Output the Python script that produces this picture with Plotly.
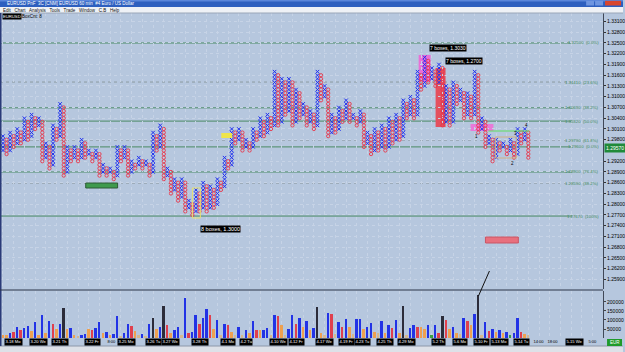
import plotly.graph_objects as go

W, H = 625, 352
BOX = 0.001

# ---------------- data ----------------
first_low = 1.295
x_highs = [1.299, 1.300, 1.301, 1.304, 1.305, 1.304, 1.297, 1.302, 1.308, 1.296, 1.296, 1.298, 1.295, 1.295, 1.291, 1.290, 1.296, 1.296, 1.292, 1.293, 1.292, 1.300, 1.302,
           1.290, 1.287, 1.287, 1.281, 1.284, 1.286, 1.285, 1.287, 1.293, 1.301, 1.301, 1.298, 1.301, 1.304, 1.305,
           1.317, 1.315, 1.315, 1.312, 1.308, 1.306, 1.317, 1.313, 1.305, 1.307, 1.309, 1.305, 1.306, 1.300, 1.301,
           1.302, 1.304, 1.305,
           1.309, 1.310, 1.317, 1.321, 1.318, 1.319, 1.313, 1.314, 1.312, 1.311, 1.317, 1.304, 1.299, 1.298, 1.297, 1.298, 1.301, 1.301]
o_lows = [1.294, 1.296, 1.297, 1.298, 1.301, 1.292, 1.290, 1.298, 1.288, 1.292, 1.292, 1.293, 1.292, 1.288, 1.288, 1.287, 1.292, 1.288, 1.290, 1.290, 1.288, 1.295, 1.287,
          1.283, 1.281, 1.278, 1.277, 1.278, 1.278, 1.279, 1.284, 1.290, 1.297, 1.295, 1.295, 1.298, 1.299, 1.301,
          1.302, 1.305, 1.302, 1.304, 1.302, 1.301, 1.309, 1.299, 1.300, 1.303, 1.303, 1.302, 1.296, 1.294, 1.295,
          1.295, 1.297, 1.298,
          1.304, 1.304, 1.312, 1.314, 1.313, 1.302, 1.302, 1.308, 1.304, 1.304, 1.300, 1.296, 1.292, 1.295, 1.294, 1.293, 1.297, 1.293]

volume_k = [17,17,30,35,60,45,55,65,40,90, 17,130,30,95,75,50,75,165,50,55, 17,12,17,25,50,45,55,90,30,35,
            17,22,120,12,30,80,65,40,17,25, 12,75,110,50,60,180,70,30,45,60, 17,220,30,35,125,75,110,160,125,50,
            100,17,80,70,35,17,60,17,45,30, 95,45,45,45,55,17,130,120,70,17, 50,125,75,
            110,60,95,45,55,170,30,17,140,135, 20,90,60,105,60,20,105,105,50,60, 85,35,30,95,30,70,55,100,30,180,
            17,55,70,60,60,50,70,17,70,30, 120,100,50,60,30,20,110,95,70,135, 240,17,90,40,50,35,45,30,35,17,
            30,110,35,25,15]
volume_kind = ("oobrbrbbob" "obobrobkob" "otbborbbob" "obbtbbrotb" "tbkobkrobb" "tbrbbrbbro"
               "btbrotbtbo" "brobbtbrot" "bbr"
               "bobobkotbr" "tbrbotbbob" "botbobrbok" "tbbroobgbr" "krobotbrob" "ktbrbobobg"
               "bbrot")

price_ticks = [1.259, 1.262, 1.265, 1.268, 1.271, 1.274, 1.277, 1.280, 1.283, 1.286, 1.289, 1.292,
               1.298, 1.301, 1.304, 1.307, 1.310, 1.313, 1.316, 1.319, 1.322, 1.325, 1.328, 1.331]
vol_ticks = [50000, 100000, 150000, 200000]

fib_prices = [1.3250, 1.3141, 1.3069, 1.3032, 1.2979, 1.2960, 1.2890, 1.2859, 1.2767]
fib_pct = ["0.0%", "23.6%", "38.2%", "50.0%", "61.8%", "0.0%", "76.4%", "38.2%", "100%"]
fib_dotted = [False, True, False, False, True, False, False, True, False]

date_cols = [3, 10, 16, 25, 30.5, 34.5, 42, 47, 55, 63, 68, 77, 82, 90, 96, 100.7, 107, 113, 122, 128, 134, 139, 145, 150, 154, 160, 165]
date_text = ["3-18 Mo", "3-20 We", "3-21 Th", "3-22 Fr", "8:00", "3-25 Mo", "3-26 Tu", "3-27 We", "3-28 Th", "4-1 Mo",
             "4-2 Tu", "4-10 We", "4-12 Fr", "4-17 We", "4-19 Fr", "4-23 Tu", "4-25 Th", "4-29 Mo", "5-2 Th", "5-6 Mo",
             "5-10 Fr", "5-13 Mo", "5-14 Tu", "14:00", "18:00", "5-15 We", "5:00"]
last_price = 1.2957

# ---------------- build P&F boxes ----------------
xx, xy, ox, oy = [], [], [], []
col = 0
low_n = round(first_low / BOX)
for hi, lo in zip(x_highs, o_lows):
    hi_n = max(round(hi / BOX), low_n)
    for n in range(low_n, hi_n + 1):
        xx.append(col); xy.append(n * BOX)
    col += 1
    lo_n = min(round(lo / BOX), hi_n - 1)
    for n in range(hi_n - 1, lo_n - 1, -1):
        ox.append(col); oy.append(n * BOX)
    col += 1
    low_n = lo_n + 1
ncols = col

kind_color = {"b": "#2233e6", "r": "#e0404e", "o": "#eea050", "t": "#d6b88e", "k": "#2c2c3a", "g": "#3aa040"}

def px(x):
    return x / W

def py(y):
    return 1 - y / H

BG = "#b6c7de"
GRID = "#c6d3e6"

fig = go.Figure()
fig.add_trace(go.Scatter(x=xx, y=xy, mode="markers", xaxis="x", yaxis="y",
                         marker=dict(symbol="x-thin", size=3.5, line=dict(color="#1f2ff0", width=1.0)),
                         hoverinfo="skip", showlegend=False))
fig.add_trace(go.Scatter(x=ox, y=oy, mode="markers", xaxis="x", yaxis="y",
                         marker=dict(symbol="circle-open", size=3.3, color="#e8364a", line=dict(width=0.9)),
                         hoverinfo="skip", showlegend=False))
fig.add_trace(go.Bar(x=list(range(len(volume_k))), y=[v * 1000 for v in volume_k], xaxis="x2", yaxis="y2",
                     marker=dict(color=[kind_color[k] for k in volume_kind], line=dict(width=0)),
                     width=0.55, hoverinfo="skip", showlegend=False))

xr = [-3 / 3.585, -3 / 3.585 + 605 / 3.585]
layout = dict(
    width=W, height=H, margin=dict(l=0, r=0, t=0, b=0), autosize=False,
    paper_bgcolor=BG, plot_bgcolor=BG, bargap=0,
    font=dict(family="Liberation Sans, Arial", size=5, color="#000000"),
    xaxis=dict(domain=[0, 605 / W], range=xr, showticklabels=False, showgrid=True, gridcolor=GRID,
               griddash="dot", dtick=3, zeroline=False, anchor="y"),
    yaxis=dict(domain=[py(289), py(13)], range=[1.25634, 1.33337], side="right", anchor="x",
               tickvals=price_ticks, ticktext=[f"{v:.5f}" for v in price_ticks],
               tickfont=dict(size=5, color="#000000"), ticks="outside", ticklen=2, tickcolor="#333",
               showgrid=True, gridcolor=GRID, griddash="dot", zeroline=False,
               showline=True, linecolor="#404858", linewidth=1),
    xaxis2=dict(domain=[0, 605 / W], range=xr, showticklabels=False, showgrid=True, gridcolor=GRID,
                griddash="dot", dtick=3, zeroline=False, anchor="y2"),
    yaxis2=dict(domain=[py(338), py(291)], range=[0, 261000], side="right", anchor="x2",
                tickvals=vol_ticks, ticktext=[str(v) for v in vol_ticks],
                tickfont=dict(size=5, color="#000000"), ticks="outside", ticklen=2,
                showgrid=False, zeroline=False, showline=True, linecolor="#404858", linewidth=1),
)
fig.update_layout(**layout)

shapes = []
def rect(x0, y0, x1, y1, fill, line=None, lw=0, layer="above"):
    shapes.append(dict(type="rect", xref="paper", yref="paper", x0=px(x0), x1=px(x1), y0=py(y1), y1=py(y0),
                       fillcolor=fill, line=dict(color=line or fill, width=lw), layer=layer))

def seg(x0, y0, x1, y1, color, width=1, dash="solid", layer="above"):
    shapes.append(dict(type="line", xref="paper", yref="paper", x0=px(x0), x1=px(x1), y0=py(y0), y1=py(y1),
                       line=dict(color=color, width=width, dash=dash), layer=layer))

# window chrome
rect(0, 0, 625, 7, "#2d5fbf")
rect(0, 0, 625, 1.5, "#5a86da")
rect(588, 0.8, 596, 5.5, "#6e95e0")
rect(597, 0.8, 605, 5.5, "#6e95e0")
rect(607, 0.8, 623, 5.5, "#d8452e")
rect(0, 7, 625, 13, "#eef1f6")
seg(0, 13, 625, 13, "#9aa6b8", 1)
rect(0, 346, 625, 352, "#dde1e8")
seg(0, 346, 625, 346, "#8d98aa", 1)
rect(0, 13, 1.5, 346, "#2a3a78")
seg(0, 290, 605, 290, "#2c3648", 1.2)
rect(609, 339, 624, 346, "#1f9a2a")

# fib levels
for p, dotted in zip(fib_prices, fib_dotted):
    shapes.append(dict(type="line", xref="paper", yref="y", x0=0, x1=px(574), y0=p, y1=p,
                       line=dict(color="#8c9aa0" if dotted else "#4a8a64", width=1,
                                 dash="dot" if dotted else "solid"), layer="between"))

# drawn objects
rect(86, 183, 118, 188, "#3f9a4e", "#2d5a36", 1)
rect(222, 133, 233, 138, "#eee44a")
rect(193, 188, 201, 218, "rgba(0,0,0,0)", "#e8e070", 1)
rect(420, 55, 432, 82, "#ea6fd6", layer="between")
rect(437, 68, 447, 127, "#e4505e", layer="between")
rect(472, 124, 495, 131, "#e87ad8", layer="between")
rect(487, 237, 520, 243, "#e8707e", "#c85565", 1)
seg(490, 131, 531, 131, "#5ee05e", 1)
rect(497, 137, 518, 158, "rgba(0,0,0,0)", "#d2b084", 1)
seg(480, 296, 491, 271, "#111111", 1)

annotations = []
def txt(x, y, s, color="#000000", size=5, bg=None, xanchor="left"):
    annotations.append(dict(xref="paper", yref="paper", x=px(x), y=py(y), text=s, showarrow=False,
                            xanchor=xanchor, yanchor="middle", font=dict(size=size, color=color),
                            bgcolor=bg, borderpad=0))

txt(6, 3.6, "EURUSD PnF  3C [CNM] EURUSD 60 min  #4 Euro / US Dollar", "#ffffff", 4.5)
txt(2, 10, "Edit   Chart   Analysis   Tools   Trade   Window   C.B   Help", "#111111", 4.5)
txt(2, 16.5, "EURUSD", "#ffffff", 4.2, "#000000")
txt(21, 16.5, "BoxCnt: 8", "#000000", 4.5)
txt(430, 48, "7 boxes, 1.3030", "#ffffff", 5, "#000000")
txt(446, 60.5, "7 boxes, 1.2700", "#ffffff", 5, "#000000")
txt(201, 228.5, "8 boxes, 1.3000", "#ffffff", 5.5, "#000000")
txt(476, 136, "1", size=4.5)
txt(515, 133, "3", size=4.5)
txt(526, 125, "4", size=4.5)
txt(512, 163, "2", size=4.5)
txt(611, 342.5, "EUR", "#ffffff", 4.5)

for p, pct in zip(fib_prices, fib_pct):
    annotations.append(dict(xref="paper", yref="y", x=px(603), y=p, text=f"{p:.5f}  ({pct})", showarrow=False,
                            xanchor="right", yanchor="middle", font=dict(size=4.3, color="#3f8a5a")))

annotations.append(dict(xref="paper", yref="y", x=px(606), y=last_price, text=f"{last_price:.5f}",
                        showarrow=False, xanchor="left", yanchor="middle",
                        font=dict(size=5, color="#ffffff"), bgcolor="#1f8a3a", borderpad=1))

for c, s in zip(date_cols, date_text):
    plain = ":" in s
    annotations.append(dict(xref="x2", yref="paper", x=c, y=py(342), text=s, showarrow=False,
                            xanchor="center", yanchor="middle",
                            font=dict(size=4.1, color="#000000" if plain else "#ffffff"),
                            bgcolor=None if plain else "#000000", borderpad=0.4))

fig.update_layout(shapes=shapes, annotations=annotations)
fig.write_html("out.html")
